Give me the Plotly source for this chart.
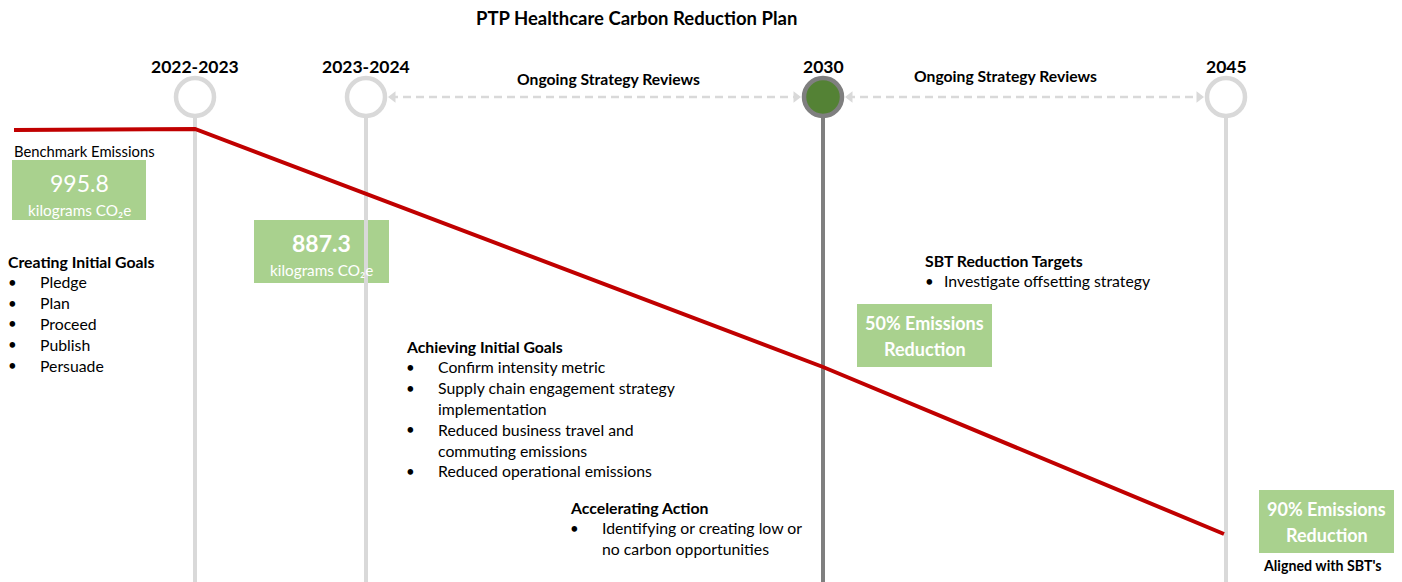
import plotly.graph_objects as go

# ---------------- data ----------------
title = "PTP Healthcare Carbon Reduction Plan"

milestones = ["2022-2023", "2023-2024", "2030", "2045"]
milestone_pos = [195, 366, 823, 1226]          # timeline units
milestone_active = [False, False, True, False]

# emissions trajectory (timeline units, drawing depth units)
path_x = [14, 195, 823, 1224]
path_y = [130, 129, 367, 534]

review_label = "Ongoing Strategy Reviews"
review_spans = [(1, 2), (2, 3)]                # milestone index pairs

value_boxes = [
    {"main": "995.8", "sub": "kilograms CO₂e", "bold": False},
    {"main": "887.3", "sub": "kilograms CO₂e", "bold": True},
    {"main": "50% Emissions", "sub": "Reduction", "bold": True},
    {"main": "90% Emissions", "sub": "Reduction", "bold": True},
]

goal_blocks = [
    {"head": "Creating Initial Goals",
     "items": [["Pledge"], ["Plan"], ["Proceed"], ["Publish"], ["Persuade"]]},
    {"head": "Achieving Initial Goals",
     "items": [["Confirm intensity metric"],
               ["Supply chain engagement strategy", "implementation"],
               ["Reduced business travel and", "commuting emissions"],
               ["Reduced operational emissions"]]},
    {"head": "Accelerating Action",
     "items": [["Identifying or creating low or", "no carbon opportunities"]]},
    {"head": "SBT Reduction Targets",
     "items": [["Investigate offsetting strategy"]]},
]

# ---------------- layout / styling ----------------
W, H = 1402, 582
FONT = "Lato, 'Open Sans', sans-serif"
GREEN_BOX = "#A9D18E"
LIGHT = "#D9D9D9"
DARK = "#7F7F7F"
RED = "#C00000"
CIRCLE_Y = 97
PAD = 2  # annotation inner padding compensation

fig = go.Figure()
shapes = []
ann = []

def text(x, y, s, size=14, bold=False, color="black", xanchor="left"):
    if xanchor == "left":
        x -= PAD
    ann.append(dict(x=x, y=y, xref="x", yref="y", text=f"<b>{s}</b>" if bold else s,
                    showarrow=False, xanchor=xanchor, yanchor="middle",
                    font=dict(family=FONT, size=size, color=color)))

# vertical stems
for pos, act in zip(milestone_pos, milestone_active):
    fig.add_trace(go.Scatter(x=[pos, pos], y=[CIRCLE_Y + 20, H], mode="lines",
                             line=dict(color=DARK if act else LIGHT, width=4),
                             hoverinfo="skip", showlegend=False))

# dashed review arrows
for a, b in review_spans:
    xa, xb = milestone_pos[a] + 24, milestone_pos[b] - 24
    fig.add_trace(go.Scatter(x=[xa, xb], y=[CIRCLE_Y, CIRCLE_Y], mode="lines",
                             line=dict(color=LIGHT, width=2.5, dash="8px,5px"),
                             hoverinfo="skip", showlegend=False))
    fig.add_trace(go.Scatter(x=[xa + 3, xb - 3], y=[CIRCLE_Y, CIRCLE_Y], mode="markers",
                             marker=dict(symbol=["triangle-left", "triangle-right"],
                                         size=10, color=LIGHT),
                             hoverinfo="skip", showlegend=False))

# emissions path
fig.add_trace(go.Scatter(x=path_x, y=path_y, mode="lines",
                         line=dict(color=RED, width=4),
                         hoverinfo="skip", showlegend=False))

# milestone circles
fig.add_trace(go.Scatter(
    x=milestone_pos, y=[CIRCLE_Y] * len(milestone_pos), mode="markers",
    marker=dict(size=38, symbol="circle",
                color=["#548235" if a else "white" for a in milestone_active],
                line=dict(color=[DARK if a else LIGHT for a in milestone_active], width=4.5)),
    hoverinfo="skip", showlegend=False))

# milestone labels
for lab, pos in zip(milestones, milestone_pos):
    text(pos, 66, lab, size=17.5, bold=True, xanchor="center")

# review labels
text(608, 79, review_label, size=15.7, bold=True, xanchor="center")
text(1005, 76, review_label, size=15.7, bold=True, xanchor="center")

# title
text(636, 18, title, size=18.5, bold=True, xanchor="center")

# value boxes
box_geo = [(12, 146, 160, 220), (254, 389, 220, 283), (857, 992, 304, 367), (1259, 1394, 490, 553)]
for i, (bx, (x0, x1, y0, y1)) in enumerate(zip(value_boxes, box_geo)):
    shapes.append(dict(type="rect", xref="x", yref="y", x0=x0, x1=x1, y0=y0, y1=y1,
                       fillcolor=GREEN_BOX, line=dict(width=0), layer="below"))
    cx = (x0 + x1) / 2
    if i < 2:
        text(cx, y0 + 23, bx["main"], size=23, bold=bx["bold"], color="white", xanchor="center")
        text(cx, y0 + 50, bx["sub"], size=15.3, color="white", xanchor="center")
    else:
        text(cx, y0 + 19, bx["main"], size=18, bold=True, color="white", xanchor="center")
        text(cx, y0 + 45, bx["sub"], size=18, bold=True, color="white", xanchor="center")

text(14, 151, "Benchmark Emissions", size=14.8)
text(1322, 565, "Aligned with SBT's", size=14.2, bold=True, xanchor="center")

# goal text blocks
block_geo = [(8, 40, 261), (406, 438, 346), (570, 602, 507), (925, 944, 260)]
for blk, (hx, tx, hy) in zip(goal_blocks, block_geo):
    text(hx, hy, blk["head"], size=15.8, bold=True)
    y = hy + 20.8
    for item in blk["items"]:
        text(hx, y, "•", size=15)
        for line in item:
            text(tx, y, line, size=15.8)
            y += 20.8

fig.update_layout(
    width=W, height=H, margin=dict(l=0, r=0, t=0, b=0),
    paper_bgcolor="white", plot_bgcolor="white",
    xaxis=dict(range=[0, W], visible=False, fixedrange=True),
    yaxis=dict(range=[H, 0], visible=False, fixedrange=True),
    shapes=shapes, annotations=ann, showlegend=False,
)

fig.write_html("out.html", config={"displayModeBar": False},
               post_script="document.body.style.margin='0px';document.body.style.overflow='hidden';")
